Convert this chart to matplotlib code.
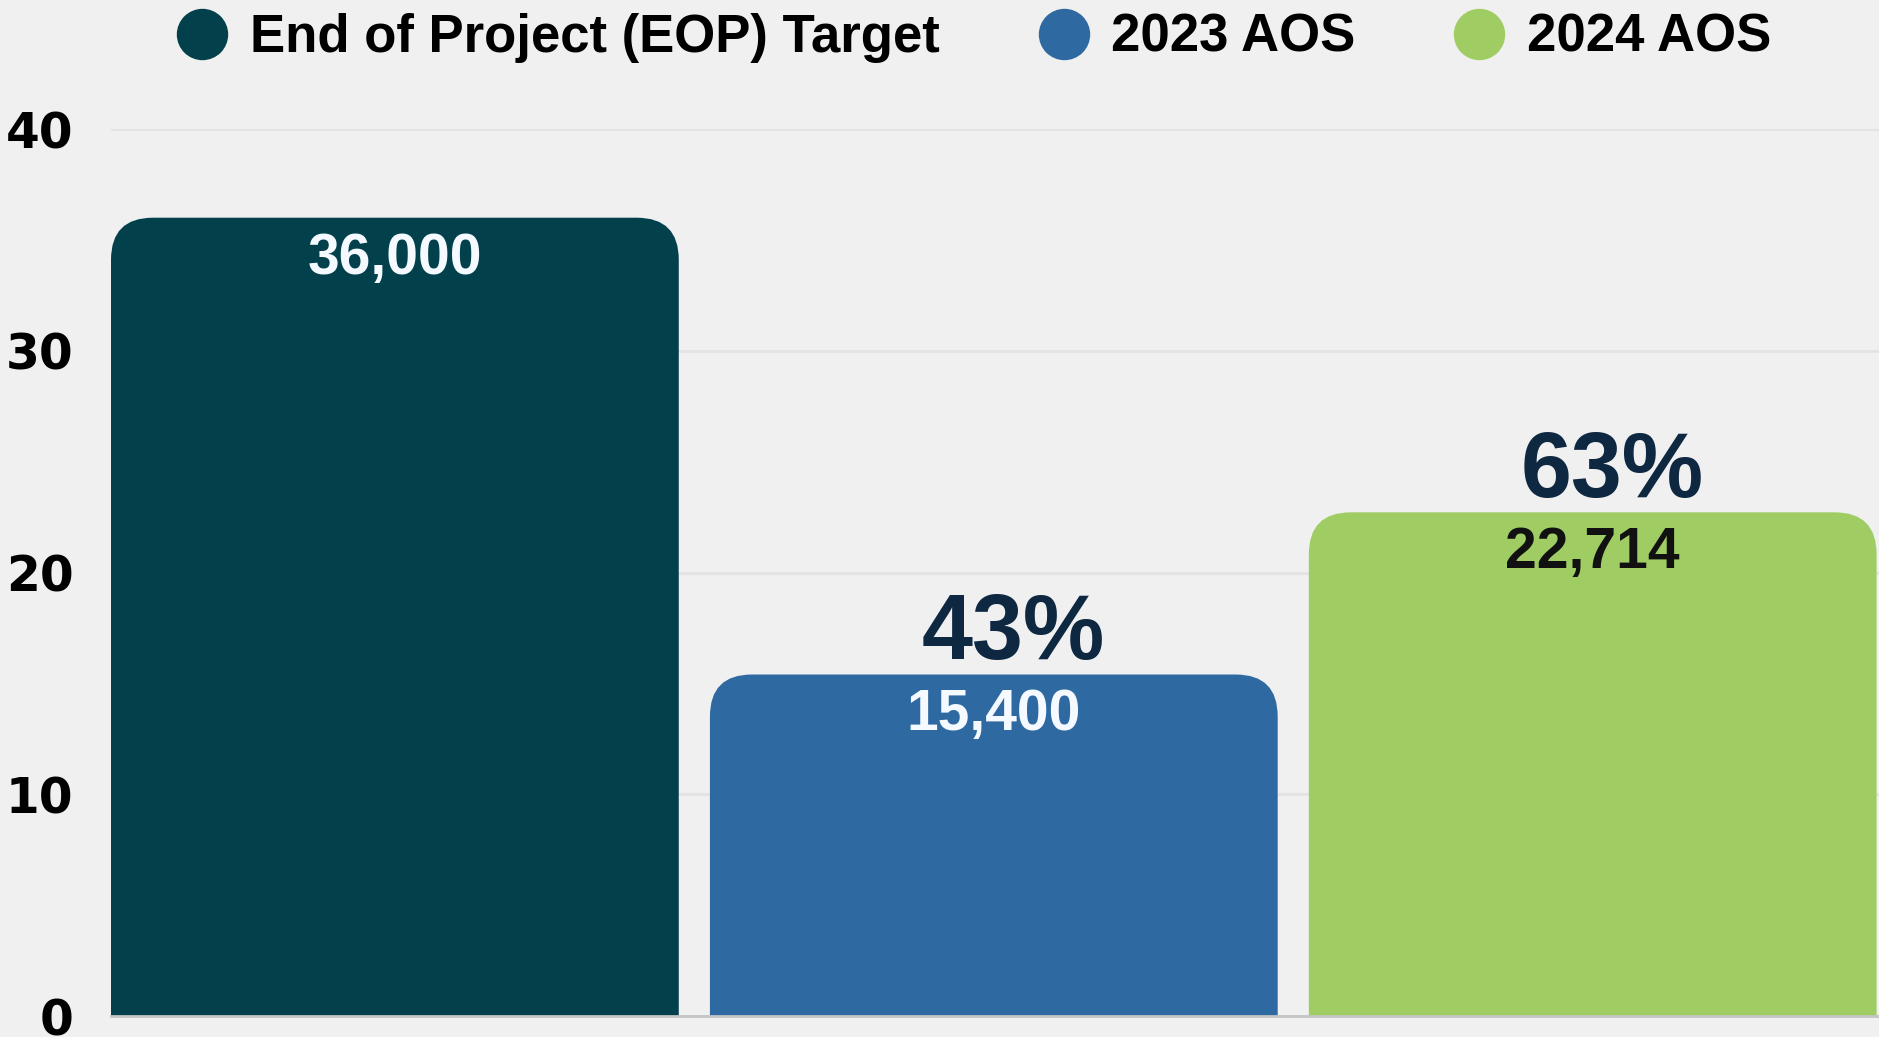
import matplotlib
matplotlib.use("Agg")
import matplotlib.pyplot as plt
from matplotlib.patches import FancyBboxPatch
from matplotlib.lines import Line2D

# data
categories = ['End of Project (EOP) Target', '2023 AOS', '2024 AOS']
values = [36000, 15400, 22714]
values_k = [v / 1000 for v in values]   # axis is in thousands
bar_colors = ['#02414C', '#2E69A1', '#A0CD63']
label_colors = ['#F4FAFF', '#F4FAFF', '#111111']
yticks = [0, 10, 20, 30, 40]

bg = '#F0F0F0'
W, H = 1879, 1037

fig = plt.figure(figsize=(W / 100, H / 100), dpi=100, facecolor=bg)
ax = fig.add_axes([111 / W, 21 / H, (W - 111) / W, (1016 - 129) / H])
ax.set_facecolor(bg)

bars = ax.bar(range(len(values_k)), values_k, width=0.948, color=bar_colors)
ax.set_xlim(-0.474, 2.478)
ax.set_ylim(0, 40)

# swap the plain rectangles for ones with rounded top corners
p = ax.transData.transform([(0, 0), (1, 1)])
rx = 42 / (p[1, 0] - p[0, 0])
ry = 42 / (p[1, 1] - p[0, 1])
for rect, c in zip(bars, bar_colors):
    x, w, h = rect.get_x(), rect.get_width(), rect.get_height()
    fb = FancyBboxPatch((x, -ry), w, h + ry,
                        boxstyle=f"round,pad=0,rounding_size={rx}",
                        mutation_aspect=ry / rx, fc=c, ec='none', zorder=2)
    ax.add_patch(fb)
    rect.set_visible(False)

# value labels inside the bars
for rect, v, lc in zip(bars, values, label_colors):
    cx = rect.get_x() + rect.get_width() / 2
    ax.annotate(f"{v:,}", xy=(cx, rect.get_height()), xytext=(0, -29.5),
                textcoords='offset points', ha='center', va='center',
                fontsize=41, fontweight='bold', family='Liberation Sans',
                color=lc, zorder=5)

# share of target above the AOS bars
for rect, v in list(zip(bars, values))[1:]:
    cx = rect.get_x() + rect.get_width() / 2
    pct = v / values[0] * 100
    ax.annotate(f"{pct:.0f}%", xy=(cx, rect.get_height()), xytext=(14, 11),
                textcoords='offset points', ha='center', va='baseline',
                fontsize=66, fontweight='bold', family='Liberation Sans',
                color='#0E2841', zorder=5)

ax.set_yticks(yticks)
ax.set_yticklabels([str(t) for t in yticks], fontsize=35, fontweight='bold',
                   family='DejaVu Sans')
ax.tick_params(axis='y', length=0, pad=27)
ax.tick_params(axis='x', bottom=False, labelbottom=False)
ax.yaxis.grid(True, color='#E3E3E3', lw=2)
ax.set_axisbelow(True)
for s in ['top', 'right', 'left']:
    ax.spines[s].set_visible(False)
ax.spines['bottom'].set_color('#C4C4C4')
ax.spines['bottom'].set_linewidth(2)

handles = [Line2D([], [], marker='o', ls='none', ms=37, mfc=c, mec='none')
           for c in bar_colors]
fig.legend(handles, categories, loc='center left',
           bbox_to_anchor=(176 / W, 1 - 38 / H), ncol=3, frameon=False,
           borderpad=0, borderaxespad=0, handlelength=1.0,
           handletextpad=0.40, columnspacing=1.85,
           prop=dict(family='Liberation Sans', weight='bold', size=38))

fig.savefig('out.png', dpi=100, facecolor=bg)
